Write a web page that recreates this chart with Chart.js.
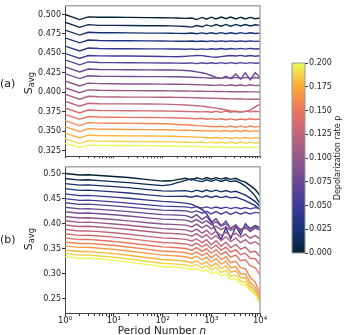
<!DOCTYPE html>
<html>
<head>
<meta charset="utf-8">
<script src="https://cdn.jsdelivr.net/npm/chart.js@4.4.1/dist/chart.umd.min.js"></script>
<style>
  body { margin: 0; background: #fff; font-family: "DejaVu Sans", sans-serif; }
  #wrap { position: relative; width: 348px; height: 335px; overflow: hidden; }
  canvas { position: absolute; }
  .lbl { position: absolute; color: #222; white-space: nowrap; line-height: 1; }
  .rot { transform: rotate(-90deg); text-align: center; }
  sub { font-size: 75%; vertical-align: -2px; }
</style>
</head>
<body>
<div id="wrap">
  <canvas id="panelA" width="348" height="162" style="left:0;top:0"></canvas>
  <canvas id="panelB" width="348" height="174" style="left:0;top:161px"></canvas>
  <canvas id="cbar" width="68" height="210" style="left:280px;top:55px"></canvas>
  <div class="lbl" style="left:0;top:78px;font-size:11px">(a)</div>
  <div class="lbl" style="left:0;top:234px;font-size:11px">(b)</div>
  <div class="lbl rot" style="left:9px;top:77px;width:40px;font-size:11px">S<sub>avg</sub></div>
  <div class="lbl rot" style="left:9px;top:233px;width:40px;font-size:11px">S<sub>avg</sub></div>
  <div class="lbl" style="left:62px;top:325px;width:200px;text-align:center;font-size:10.5px">Period Number <i>n</i></div>
  <div class="lbl rot" style="left:278px;top:154px;width:120px;font-size:8px">Depolarization rate p</div>
</div>
<script>
// x positions (period number n), shared by every curve
const periodN = [1, 2, 3, 5, 10, 20, 50, 100, 150, 200, 300, 400, 500, 650, 800, 1000, 1250, 1600, 2000, 2500, 3200, 4000, 5000, 6300, 8000, 10000];

// depolarization rate of each curve
const pRates = [0.000, 0.011, 0.021, 0.032, 0.042, 0.053, 0.063, 0.074, 0.084, 0.095, 0.105, 0.116, 0.126, 0.137, 0.147, 0.158, 0.168, 0.179, 0.189, 0.200];

// panel (a)
const a00 = [0.500, 0.4935, 0.497, 0.4965, 0.4965, 0.4963, 0.496, 0.4958, 0.4957, 0.4955, 0.495, 0.4955, 0.4935, 0.4962, 0.494, 0.4965, 0.4942, 0.4968, 0.4945, 0.4968, 0.4942, 0.4965, 0.4943, 0.4963, 0.4945, 0.4955];
const a01 = [0.490, 0.4835, 0.487, 0.486, 0.486, 0.4858, 0.4856, 0.4855, 0.4853, 0.485, 0.4845, 0.4838, 0.4858, 0.4842, 0.4866, 0.4848, 0.487, 0.485, 0.4872, 0.485, 0.4872, 0.4852, 0.487, 0.4853, 0.4868, 0.486];
const a02 = [0.480, 0.4735, 0.4772, 0.4765, 0.4765, 0.4763, 0.476, 0.476, 0.4758, 0.4757, 0.4755, 0.4762, 0.4752, 0.4763, 0.4753, 0.4765, 0.4752, 0.4766, 0.4752, 0.4765, 0.4753, 0.4766, 0.4754, 0.4765, 0.4755, 0.476];
const a03 = [0.470, 0.4635, 0.4672, 0.4665, 0.4663, 0.4662, 0.466, 0.4658, 0.4657, 0.4656, 0.4655, 0.4658, 0.4652, 0.4659, 0.4653, 0.466, 0.4652, 0.4661, 0.4653, 0.466, 0.4652, 0.4661, 0.4653, 0.466, 0.4654, 0.4657];
const a04 = [0.4594, 0.453, 0.4568, 0.4562, 0.456, 0.456, 0.4558, 0.4557, 0.4556, 0.4555, 0.4553, 0.4557, 0.455, 0.4558, 0.4551, 0.456, 0.4552, 0.4562, 0.4553, 0.4563, 0.4554, 0.4564, 0.4555, 0.4564, 0.4556, 0.456];
const a05 = [0.450, 0.4435, 0.4472, 0.4467, 0.4466, 0.4465, 0.4463, 0.446, 0.4458, 0.4457, 0.4462, 0.4468, 0.4472, 0.447, 0.4462, 0.4455, 0.445, 0.4458, 0.4466, 0.4472, 0.4465, 0.4474, 0.4462, 0.4473, 0.4463, 0.447];
const a06 = [0.4417, 0.4352, 0.439, 0.4383, 0.438, 0.4378, 0.4377, 0.4376, 0.4375, 0.4374, 0.4372, 0.4377, 0.4368, 0.4378, 0.4369, 0.4379, 0.437, 0.438, 0.437, 0.438, 0.437, 0.4381, 0.4371, 0.438, 0.4372, 0.4376];
const a07 = [0.4326, 0.426, 0.4298, 0.4292, 0.429, 0.4288, 0.4287, 0.4286, 0.4285, 0.4284, 0.428, 0.4272, 0.4262, 0.425, 0.4235, 0.4215, 0.419, 0.4178, 0.4205, 0.4175, 0.4235, 0.4168, 0.4248, 0.416, 0.4252, 0.419];
const a08 = [0.4239, 0.4175, 0.4212, 0.4206, 0.4204, 0.4202, 0.42, 0.42, 0.4199, 0.4198, 0.4196, 0.4193, 0.419, 0.4187, 0.4184, 0.418, 0.4185, 0.4178, 0.4188, 0.4176, 0.419, 0.4177, 0.419, 0.4176, 0.4188, 0.418];
const a09 = [0.4144, 0.408, 0.4117, 0.411, 0.4108, 0.4106, 0.4105, 0.4104, 0.4103, 0.4102, 0.41, 0.4098, 0.4096, 0.4094, 0.4092, 0.409, 0.4088, 0.4094, 0.4084, 0.4095, 0.4083, 0.4096, 0.4082, 0.4095, 0.4084, 0.409];
const a10 = [0.4057, 0.3993, 0.403, 0.4024, 0.4022, 0.402, 0.4019, 0.4018, 0.4017, 0.4016, 0.4015, 0.4014, 0.4013, 0.4012, 0.4011, 0.401, 0.4009, 0.4008, 0.4007, 0.4006, 0.4006, 0.4005, 0.4005, 0.4004, 0.4004, 0.4003];
const a11 = [0.3974, 0.391, 0.3947, 0.3941, 0.3939, 0.3937, 0.3936, 0.3935, 0.3934, 0.3933, 0.3932, 0.393, 0.3928, 0.3926, 0.3924, 0.3922, 0.392, 0.3918, 0.3916, 0.3914, 0.3913, 0.3912, 0.3911, 0.391, 0.391, 0.391];
const a12 = [0.3883, 0.382, 0.3857, 0.3852, 0.385, 0.3849, 0.3848, 0.3846, 0.3843, 0.384, 0.3835, 0.383, 0.3825, 0.382, 0.3813, 0.3805, 0.3795, 0.3783, 0.377, 0.3758, 0.3748, 0.3745, 0.3752, 0.377, 0.381, 0.3845];
const a13 = [0.3797, 0.3733, 0.377, 0.3765, 0.3763, 0.3762, 0.376, 0.3758, 0.3756, 0.3754, 0.3752, 0.375, 0.3748, 0.3746, 0.3752, 0.3742, 0.3755, 0.374, 0.3756, 0.3742, 0.3757, 0.3745, 0.3756, 0.3747, 0.3755, 0.375];
const a14 = [0.3713, 0.365, 0.3687, 0.368, 0.3678, 0.3676, 0.3674, 0.3672, 0.367, 0.3668, 0.3665, 0.3662, 0.3658, 0.3664, 0.3652, 0.366, 0.3648, 0.3658, 0.3645, 0.3656, 0.3642, 0.3655, 0.3645, 0.3657, 0.3648, 0.3655];
const a15 = [0.3635, 0.357, 0.3608, 0.3602, 0.36, 0.3598, 0.3596, 0.3594, 0.359, 0.3585, 0.358, 0.3575, 0.357, 0.3566, 0.3562, 0.3558, 0.3555, 0.3562, 0.355, 0.3565, 0.3548, 0.3566, 0.3548, 0.3565, 0.355, 0.356];
const a16 = [0.3557, 0.3493, 0.353, 0.3524, 0.3522, 0.352, 0.3518, 0.3516, 0.3514, 0.3512, 0.351, 0.3508, 0.3506, 0.3504, 0.3502, 0.35, 0.3505, 0.3497, 0.3506, 0.3495, 0.3507, 0.3494, 0.3506, 0.3495, 0.3505, 0.35];
const a17 = [0.3474, 0.341, 0.3447, 0.3442, 0.344, 0.3438, 0.3436, 0.3434, 0.3432, 0.343, 0.3428, 0.3425, 0.3422, 0.3418, 0.3414, 0.341, 0.3416, 0.3406, 0.3418, 0.3404, 0.3418, 0.3405, 0.3416, 0.3406, 0.3415, 0.341];
const a18 = [0.3403, 0.3338, 0.3376, 0.337, 0.3368, 0.3366, 0.3364, 0.3362, 0.336, 0.3358, 0.3356, 0.3354, 0.3352, 0.3358, 0.3348, 0.3357, 0.3345, 0.3356, 0.3344, 0.3356, 0.3343, 0.3355, 0.3344, 0.3355, 0.3345, 0.335];
const a19 = [0.3341, 0.329, 0.3318, 0.3315, 0.3314, 0.3313, 0.3312, 0.331, 0.3308, 0.3306, 0.3304, 0.3302, 0.33, 0.3298, 0.3296, 0.3294, 0.3292, 0.3298, 0.3288, 0.3296, 0.3286, 0.3297, 0.3286, 0.3296, 0.3288, 0.3292];

// panel (b)
const b00 = [0.500, 0.497, 0.4975, 0.496, 0.494, 0.492, 0.488, 0.485, 0.4855, 0.488, 0.4905, 0.487, 0.4915, 0.4885, 0.492, 0.4888, 0.4918, 0.489, 0.4915, 0.4885, 0.4905, 0.486, 0.483, 0.476, 0.468, 0.456];
const b01 = [0.490, 0.487, 0.4875, 0.486, 0.484, 0.482, 0.4785, 0.476, 0.478, 0.482, 0.4865, 0.4895, 0.4858, 0.484, 0.4875, 0.4845, 0.4878, 0.4842, 0.4875, 0.484, 0.4855, 0.481, 0.475, 0.466, 0.455, 0.440];
const b02 = [0.480, 0.477, 0.4775, 0.476, 0.474, 0.472, 0.468, 0.4655, 0.465, 0.4655, 0.466, 0.4635, 0.4668, 0.4638, 0.467, 0.464, 0.4668, 0.4635, 0.4662, 0.463, 0.4645, 0.461, 0.457, 0.451, 0.444, 0.434];
const b03 = [0.470, 0.4665, 0.467, 0.4655, 0.4635, 0.4612, 0.4575, 0.455, 0.4545, 0.4545, 0.4548, 0.4528, 0.4555, 0.4525, 0.4556, 0.4522, 0.4552, 0.452, 0.4545, 0.4515, 0.4528, 0.4495, 0.446, 0.441, 0.436, 0.428];
const b04 = [0.4594, 0.456, 0.4565, 0.455, 0.453, 0.4507, 0.447, 0.4445, 0.4435, 0.4425, 0.441, 0.4385, 0.434, 0.428, 0.420, 0.405, 0.385, 0.368, 0.392, 0.370, 0.395, 0.378, 0.400, 0.390, 0.396, 0.392];
const b05 = [0.450, 0.4465, 0.447, 0.4455, 0.4435, 0.441, 0.4375, 0.435, 0.4345, 0.434, 0.4335, 0.4315, 0.434, 0.431, 0.4335, 0.4305, 0.4332, 0.4302, 0.433, 0.430, 0.4325, 0.4298, 0.4322, 0.4295, 0.432, 0.4305];
const b06 = [0.4417, 0.4385, 0.439, 0.4375, 0.4355, 0.433, 0.4295, 0.427, 0.4265, 0.4262, 0.4255, 0.4225, 0.4255, 0.421, 0.4245, 0.4195, 0.424, 0.419, 0.4235, 0.4185, 0.423, 0.419, 0.4228, 0.4192, 0.4225, 0.421];
const b07 = [0.4326, 0.4295, 0.430, 0.4285, 0.4265, 0.424, 0.4205, 0.418, 0.4175, 0.417, 0.416, 0.412, 0.418, 0.408, 0.415, 0.402, 0.410, 0.396, 0.405, 0.390, 0.398, 0.385, 0.394, 0.384, 0.392, 0.388];
const b08 = [0.4239, 0.4208, 0.4213, 0.4198, 0.4178, 0.4152, 0.4115, 0.409, 0.4085, 0.408, 0.407, 0.4035, 0.408, 0.401, 0.406, 0.398, 0.404, 0.395, 0.400, 0.391, 0.396, 0.388, 0.394, 0.386, 0.393, 0.389];
const b09 = [0.4144, 0.4113, 0.4118, 0.4103, 0.4082, 0.4056, 0.4018, 0.3992, 0.3985, 0.398, 0.397, 0.3935, 0.399, 0.3915, 0.397, 0.3895, 0.395, 0.388, 0.3935, 0.3865, 0.392, 0.385, 0.3915, 0.3855, 0.391, 0.387];
const b10 = [0.4057, 0.4026, 0.403, 0.4015, 0.3994, 0.3967, 0.3928, 0.390, 0.3893, 0.3886, 0.3875, 0.384, 0.389, 0.381, 0.387, 0.378, 0.385, 0.376, 0.383, 0.375, 0.381, 0.373, 0.379, 0.371, 0.376, 0.369];
const b11 = [0.3974, 0.3943, 0.3947, 0.3932, 0.391, 0.3882, 0.3842, 0.3812, 0.3805, 0.3798, 0.3785, 0.375, 0.380, 0.372, 0.378, 0.369, 0.376, 0.366, 0.374, 0.364, 0.371, 0.362, 0.368, 0.360, 0.364, 0.357];
const b12 = [0.3883, 0.3852, 0.3855, 0.384, 0.3818, 0.3788, 0.3746, 0.3715, 0.3708, 0.370, 0.3685, 0.3655, 0.3695, 0.362, 0.368, 0.358, 0.366, 0.355, 0.363, 0.352, 0.358, 0.349, 0.353, 0.343, 0.345, 0.335];
const b13 = [0.3797, 0.3766, 0.3769, 0.3753, 0.373, 0.370, 0.3656, 0.3625, 0.3617, 0.361, 0.3595, 0.356, 0.361, 0.3535, 0.359, 0.350, 0.357, 0.347, 0.353, 0.343, 0.348, 0.338, 0.341, 0.331, 0.330, 0.318];
const b14 = [0.3713, 0.3682, 0.3685, 0.3668, 0.3645, 0.3614, 0.3569, 0.3537, 0.3528, 0.352, 0.3505, 0.347, 0.352, 0.3445, 0.350, 0.341, 0.348, 0.338, 0.344, 0.333, 0.337, 0.326, 0.328, 0.316, 0.312, 0.298];
const b15 = [0.3635, 0.3604, 0.3606, 0.3589, 0.3565, 0.3533, 0.3487, 0.3454, 0.3445, 0.3437, 0.342, 0.3385, 0.3435, 0.336, 0.3415, 0.332, 0.339, 0.328, 0.334, 0.322, 0.325, 0.312, 0.310, 0.293, 0.283, 0.258];
const b16 = [0.3557, 0.3526, 0.3528, 0.351, 0.3486, 0.3453, 0.3406, 0.3372, 0.3362, 0.3354, 0.3338, 0.3305, 0.335, 0.3275, 0.333, 0.3235, 0.330, 0.319, 0.325, 0.312, 0.314, 0.300, 0.299, 0.283, 0.272, 0.250];
const b17 = [0.3474, 0.3443, 0.3445, 0.3427, 0.3402, 0.3368, 0.332, 0.3285, 0.3275, 0.3267, 0.325, 0.3215, 0.326, 0.3185, 0.324, 0.3145, 0.321, 0.310, 0.316, 0.303, 0.306, 0.292, 0.292, 0.276, 0.266, 0.245];
const b18 = [0.3403, 0.3372, 0.3373, 0.3355, 0.333, 0.3295, 0.3245, 0.321, 0.320, 0.3192, 0.3175, 0.3145, 0.3185, 0.311, 0.316, 0.3075, 0.3125, 0.302, 0.307, 0.295, 0.297, 0.285, 0.284, 0.270, 0.260, 0.240];
const b19 = [0.3341, 0.331, 0.3311, 0.3293, 0.3267, 0.3232, 0.3181, 0.3145, 0.3135, 0.3127, 0.311, 0.3085, 0.310, 0.305, 0.308, 0.3005, 0.304, 0.296, 0.299, 0.289, 0.290, 0.279, 0.278, 0.266, 0.258, 0.240];

const panelA = [a00, a01, a02, a03, a04, a05, a06, a07, a08, a09, a10, a11, a12, a13, a14, a15, a16, a17, a18, a19];
const panelB = [b00, b01, b02, b03, b04, b05, b06, b07, b08, b09, b10, b11, b12, b13, b14, b15, b16, b17, b18, b19];

// axis ticks
const xMajor = [1, 10, 100, 1000, 10000];
const xTickLabels = ['10\u2070', '10\u00b9', '10\u00b2', '10\u00b3', '10\u2074'];
const yTicksA = [0.325, 0.350, 0.375, 0.400, 0.425, 0.450, 0.475, 0.500];
const yTicksB = [0.25, 0.30, 0.35, 0.40, 0.45, 0.50];
const cbTicks = [0.000, 0.025, 0.050, 0.075, 0.100, 0.125, 0.150, 0.175, 0.200];

// thermal-like colour map, 0 -> 0.2
const cmapStops = [
    [0.000, [4, 35, 51]],
    [0.125, [25, 50, 120]],
    [0.250, [62, 58, 155]],
    [0.375, [105, 73, 145]],
    [0.500, [148, 88, 140]],
    [0.625, [192, 100, 125]],
    [0.750, [235, 118, 95]],
    [0.875, [252, 168, 57]],
    [1.000, [232, 250, 91]]
];

function cmap(t) {
    for (let i = 1; i < cmapStops.length; i++) {
        const [t1, c1] = cmapStops[i];
        const [t0, c0] = cmapStops[i - 1];
        if (t <= t1) {
            const f = (t - t0) / (t1 - t0);
            const c = c0.map((v, k) => Math.round(v + (c1[k] - v) * f));
            return `rgb(${c[0]},${c[1]},${c[2]})`;
        }
    }
    const c = cmapStops[cmapStops.length - 1][1];
    return `rgb(${c[0]},${c[1]},${c[2]})`;
}

const font = { family: 'DejaVu Sans', size: 8 };
const tickColor = '#333';

// light grey top/right spines
const framePlugin = {
    id: 'frame',
    afterDraw(chart) {
        const a = chart.chartArea, c = chart.ctx;
        c.save();
        c.strokeStyle = '#aaa';
        c.lineWidth = 1.5;
        c.beginPath();
        c.moveTo(a.left, a.top);
        c.lineTo(a.right, a.top);
        c.lineTo(a.right, a.bottom);
        c.stroke();
        c.restore();
    }
};

function xTickList() {
    const list = [];
    xMajor.forEach((m, i) => {
        list.push({ value: m, major: true });
        if (i < xMajor.length - 1) {
            for (let k = 2; k <= 9; k++) list.push({ value: m * k });
        }
    });
    return list;
}

function makePanel(id, lines, yMin, yMax, yTicks, decimals, opts) {
    const datasets = lines.map((vals, i) => ({
        data: periodN.map((n, j) => ({ x: n, y: vals[j] })),
        borderColor: cmap(pRates[i] / 0.2),
        borderWidth: 1.4,
        pointRadius: 0,
        tension: 0,
        order: -i
    }));
    return new Chart(document.getElementById(id), {
        type: 'line',
        data: { datasets },
        plugins: [framePlugin],
        options: {
            responsive: false,
            animation: false,
            devicePixelRatio: 1,
            layout: { padding: { left: 0, right: 88, top: opts.top, bottom: 0 } },
            plugins: { legend: { display: false }, tooltip: { enabled: false } },
            scales: {
                x: {
                    type: 'logarithmic',
                    min: 1,
                    max: 10000,
                    afterBuildTicks: s => { s.ticks = xTickList(); },
                    afterFit: s => { s.height = opts.xHeight; },
                    grid: { drawOnChartArea: false, tickLength: opts.xTick, tickColor: tickColor },
                    border: { color: '#444', width: 1 },
                    ticks: {
                        display: opts.xLabels,
                        autoSkip: false,
                        maxRotation: 0,
                        padding: 0,
                        color: '#222',
                        font: { family: 'DejaVu Sans', size: 8.5 },
                        callback: v => {
                            const k = xMajor.indexOf(v);
                            return k >= 0 ? xTickLabels[k] : '';
                        }
                    }
                },
                y: {
                    type: 'linear',
                    min: yMin,
                    max: yMax,
                    afterBuildTicks: s => { s.ticks = yTicks.map(v => ({ value: v })); },
                    afterFit: s => { s.width = 65; },
                    grid: { drawOnChartArea: false, tickLength: 3, tickColor: tickColor },
                    border: { color: '#444', width: 1 },
                    ticks: {
                        padding: 1,
                        color: '#222',
                        font: font,
                        callback: v => v.toFixed(decimals)
                    }
                }
            }
        }
    });
}

makePanel('panelA', panelA, 0.3176, 0.5112, yTicksA, 3, { top: 5, xHeight: 1, xTick: 2, xLabels: false });
makePanel('panelB', panelB, 0.2216, 0.5135, yTicksB, 2, { top: 1, xHeight: 22, xTick: 3, xLabels: true });

// colour bar
const cbarPlugin = {
    id: 'cbarFill',
    beforeDatasetsDraw(chart) {
        const a = chart.chartArea, c = chart.ctx;
        const g = c.createLinearGradient(0, a.bottom, 0, a.top);
        cmapStops.forEach(([t, col]) => g.addColorStop(t, `rgb(${col[0]},${col[1]},${col[2]})`));
        c.save();
        c.fillStyle = g;
        c.fillRect(a.left, a.top, a.right - a.left, a.bottom - a.top);
        c.strokeStyle = '#999';
        c.lineWidth = 1;
        c.strokeRect(a.left, a.top, a.right - a.left, a.bottom - a.top);
        c.restore();
    }
};

new Chart(document.getElementById('cbar'), {
    type: 'line',
    data: { datasets: [{ data: [] }] },
    plugins: [cbarPlugin],
    options: {
        responsive: false,
        animation: false,
        devicePixelRatio: 1,
        layout: { padding: { left: 12, right: 0, top: 8, bottom: 12 } },
        plugins: { legend: { display: false }, tooltip: { enabled: false } },
        scales: {
            x: { display: false },
            y: {
                position: 'right',
                min: 0,
                max: 0.2,
                afterBuildTicks: s => { s.ticks = cbTicks.map(v => ({ value: v })); },
                afterFit: s => { s.width = 43; },
                grid: { drawOnChartArea: false, tickLength: 3, tickColor: tickColor },
                border: { display: false },
                ticks: {
                    padding: 1,
                    color: '#222',
                    font: { family: 'DejaVu Sans', size: 8 },
                    callback: v => v.toFixed(3)
                }
            }
        }
    }
});
</script>
</body>
</html>
